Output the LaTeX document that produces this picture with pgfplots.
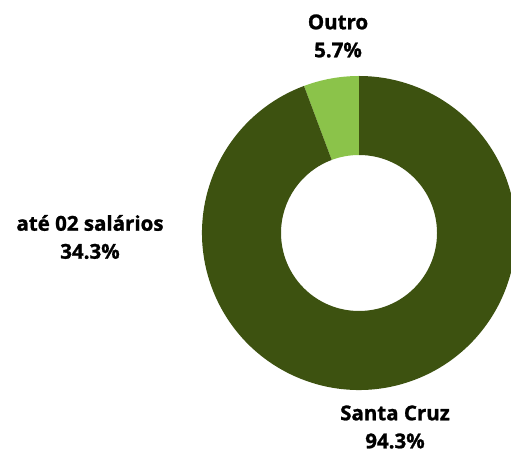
\documentclass[border=0pt]{standalone}
\usepackage{pgfplots}
\usepackage{pgfplotstable}
\pgfplotsset{compat=1.18}
\usepackage{fontspec}
\setmainfont{Open Sans}[BoldFeatures={FakeBold=1.2}]
\definecolor{darkg}{RGB}{61,82,16}
\definecolor{lightg}{RGB}{139,195,74}
\pgfplotstableread{
name value
Outro 5.7
SantaCruz 94.3
}\slices
\begin{document}
\begin{tikzpicture}
\path[use as bounding box] (0,0) rectangle (511pt,452pt);
\begin{axis}[
  at={(0,0)}, anchor=south west,
  x=1pt, y=1pt, xmin=0, xmax=511, ymin=0, ymax=452,
  hide axis, scale only axis, clip=true,
]
\pgfplotstablegetelem{0}{value}\of\slices \let\va\pgfplotsretval
\pgfplotstablegetelem{1}{value}\of\slices \let\vb\pgfplotsretval
\pgfmathsetmacro{\aone}{90+3.6*\va}
\pgfmathsetmacro{\atwo}{\aone+3.6*\vb}
% Outro slice
\fill[lightg] (axis cs:{359+157*cos(90)},{219+157*sin(90)}) arc[start angle=90,end angle=\aone,radius=157pt]
  -- (axis cs:{359+78*cos(\aone)},{219+78*sin(\aone)}) arc[start angle=\aone,end angle=90,radius=78pt] -- cycle;
% Santa Cruz slice
\fill[darkg] (axis cs:{359+157*cos(\aone)},{219+157*sin(\aone)}) arc[start angle=\aone,end angle=\atwo,radius=157pt]
  -- (axis cs:{359+78*cos(\atwo)},{219+78*sin(\atwo)}) arc[start angle=\atwo,end angle=\aone,radius=78pt] -- cycle;
\end{axis}
\node[font=\bfseries\fontsize{20.5}{28}\selectfont, align=center, anchor=center, inner sep=0pt] at (338pt,{452pt-36pt}) {Outro\\5.7\%};
\node[font=\bfseries\fontsize{20.5}{28}\selectfont, align=center, anchor=center, inner sep=0pt] at (90pt,{452pt-237pt}) {até 02 salários\\34.3\%};
\node[font=\bfseries\fontsize{20.5}{28}\selectfont, align=center, anchor=center, inner sep=0pt] at (395pt,{452pt-427pt}) {Santa Cruz\\94.3\%};
\end{tikzpicture}
\end{document}
